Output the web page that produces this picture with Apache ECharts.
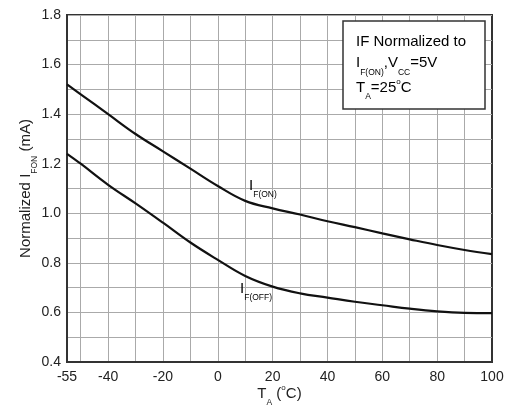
<!DOCTYPE html>
<html>
<head>
<meta charset="utf-8">
<script src="https://cdn.jsdelivr.net/npm/echarts@6/dist/echarts.min.js"></script>
<style>
  html, body { margin: 0; padding: 0; background: #fff; }
  #chart { width: 510px; height: 414px; }
</style>
</head>
<body>
<div id="chart"></div>
<script>
// Ambient temperature (°C) sample points
const temps = [-55, -50, -40, -30, -20, -10, 0, 10, 20, 30, 40, 50, 60, 70, 80, 90, 100];
// Normalized forward current thresholds
const ifOn  = [1.52, 1.48, 1.40, 1.32, 1.25, 1.18, 1.11, 1.05, 1.02, 0.995, 0.968, 0.944, 0.919, 0.895, 0.872, 0.852, 0.835];
const ifOff = [1.24, 1.20, 1.115, 1.04, 0.962, 0.882, 0.812, 0.747, 0.704, 0.677, 0.66, 0.643, 0.629, 0.615, 0.604, 0.598, 0.597];
// Axis ticks
const xLabelTicks = [-55, -40, -20, 0, 20, 40, 60, 80, 100];
const xGridTicks = [-50, -40, -30, -20, -10, 0, 10, 20, 30, 40, 50, 60, 70, 80, 90];
const yMin = 0.4, yMax = 1.8, yStep = 0.1;

const FONT = '"Liberation Sans", Arial, sans-serif';
const TXT = '#222';

// Rich styles shared by all sub/superscripted labels:
// m = normal text, s = subscript, o = raised degree mark
const richStyles = {
  m: { fontFamily: FONT, fontSize: 15, lineHeight: 15, padding: [4, 0, 0, 0], verticalAlign: 'top', color: TXT },
  s: { fontFamily: FONT, fontSize: 8.5, lineHeight: 9, padding: [16.5, 0, 0, 0], verticalAlign: 'top', color: TXT },
  o: { fontFamily: FONT, fontSize: 8, lineHeight: 8, padding: [2, 0, 0, 0], verticalAlign: 'top', color: TXT }
};

const pair = (a, b) => temps.map((t, i) => [t, b[i]]);

const chart = echarts.init(document.getElementById('chart'), null, { renderer: 'canvas' });

const option = {
  backgroundColor: '#fff',
  animation: false,
  grid: {
    left: 67, right: 18, top: 15, bottom: 52,
    show: true, borderColor: '#333', borderWidth: 2, backgroundColor: 'transparent'
  },
  xAxis: {
    type: 'value', min: -55, max: 100,
    name: '{m|T}{s|A}{m| (}{o|o}{m|C)}',
    nameLocation: 'middle', nameGap: 20, nameMoveOverlap: false,
    nameTextStyle: { rich: richStyles },
    axisLine: { show: true, onZero: false, lineStyle: { color: '#333', width: 2 } },
    axisTick: { show: false, customValues: xGridTicks },
    axisLabel: {
      customValues: xLabelTicks, margin: 8,
      fontFamily: FONT, fontSize: 14, color: TXT
    },
    splitLine: { show: true, lineStyle: { color: '#aaa', width: 1 } }
  },
  yAxis: {
    type: 'value', min: yMin, max: yMax, interval: yStep,
    name: '{m|Normalized I}{s|FON}{m| (mA)}',
    nameLocation: 'middle', nameGap: 38, nameMoveOverlap: false,
    nameTextStyle: { rich: richStyles },
    axisLine: { show: true, onZero: false, lineStyle: { color: '#333', width: 2 } },
    axisTick: { show: false },
    axisLabel: {
      margin: 6, fontFamily: FONT, fontSize: 14, color: TXT,
      formatter: v => (Math.round(v * 10) % 2 === 0 ? v.toFixed(1) : '')
    },
    splitLine: { show: true, lineStyle: { color: '#aaa', width: 1 } }
  },
  series: [
    {
      name: 'IF(ON)', type: 'line', data: pair(temps, ifOn), smooth: 0.4,
      showSymbol: false, lineStyle: { color: '#111', width: 2.2 }, z: 5
    },
    {
      name: 'IF(OFF)', type: 'line', data: pair(temps, ifOff), smooth: 0.4,
      showSymbol: false, lineStyle: { color: '#111', width: 2.2 }, z: 5
    }
  ]
};
chart.setOption(option);

// Curve labels anchored in data space, plus the conditions box
const onPos = chart.convertToPixel({ gridIndex: 0 }, [11.4, 1.159]);
const offPos = chart.convertToPixel({ gridIndex: 0 }, [8.1, 0.743]);

const richText = (x, y, text) => ({
  type: 'text', x: x, y: y, z: 10,
  style: { text: text, rich: richStyles, verticalAlign: 'top', align: 'left' }
});

chart.setOption({
  graphic: [
    richText(onPos[0], onPos[1], '{m|I}{s|F(ON)}'),
    richText(offPos[0], offPos[1], '{m|I}{s|F(OFF)}'),
    {
      type: 'rect', z: 8,
      shape: { x: 343, y: 21, width: 142, height: 88 },
      style: { fill: '#fff', stroke: '#333', lineWidth: 1.5 }
    },
    richText(356, 30, '{m|IF Normalized to}'),
    richText(356, 51.7, '{m|I}{s|F(ON)}{m|,V}{s|CC}{m|=5V}'),
    richText(356, 76, '{m|T}{s|A}{m|=25}{o|o}{m|C}')
  ]
});
</script>
</body>
</html>
